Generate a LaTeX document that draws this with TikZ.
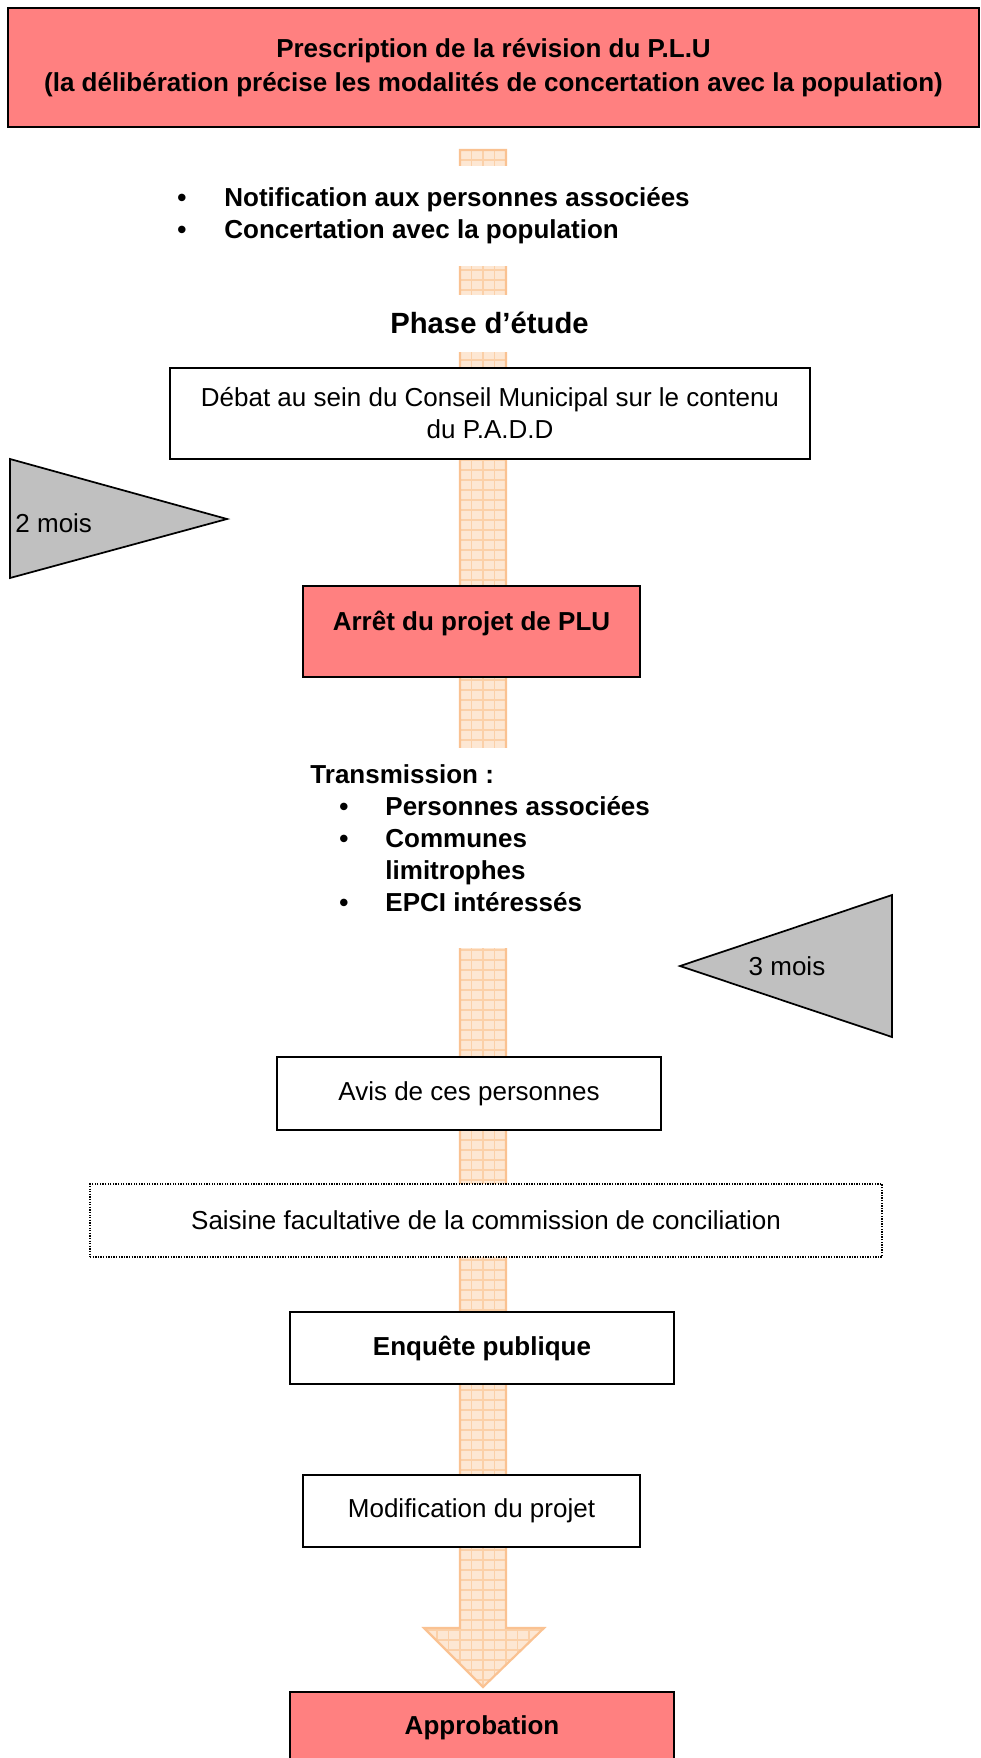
\documentclass[tikz,border=0pt]{standalone}
\usepackage{fontspec}
\setmainfont{Liberation Sans}
\usepackage{tikz}

\newlength\pix
\setlength\pix{0.4615pt}

\definecolor{rose}{RGB}{255,128,128}
\definecolor{gris}{RGB}{192,192,192}
\definecolor{peche}{RGB}{253,231,211}
\definecolor{pechegrille}{RGB}{251,208,168}
\definecolor{pechebord}{RGB}{250,194,146}

\tikzset{
	texte/.style={inner sep=0pt, align=center, font=\fontsize{12}{14.77}\selectfont},
	gras/.style={texte, font=\fontsize{12}{14.77}\selectfont\bfseries},
	boite/.style={draw=black, line width=0.9pt, fill=white},
	triangle/.style={draw=black, line width=0.8pt, fill=gris, line join=miter}
}

\begin{document}
\begin{tikzpicture}[x=\pix, y=-\pix]
	\useasboundingbox (0,0) rectangle (981,1758);

	\draw[pechebord, line width=1pt, fill=peche, path picture={
		\foreach \gx in {0,...,12}
			\draw[pechegrille, line width=0.5pt] ({414+\gx*11.5},140) -- ({414+\gx*11.5},1700);
		\foreach \gy in {0,...,155}
			\draw[pechegrille, line width=0.5pt] (400,{150+\gy*10}) -- (560,{150+\gy*10});
	}] (460,150) -- (506,150) -- (506,1628) -- (544,1628) -- (483,1687) -- (424,1628) -- (460,1628) -- cycle;

	\node[gras, boite, fill=rose, minimum width=971\pix, minimum height=119\pix] (prescription) at (493.5,67.5)
		{Prescription de la révision du P.L.U\\[1pt](la délibération précise les modalités de concertation avec la population)};

	\node[gras, fill=white, anchor=north west] (notif) at (177,166)
		{\parbox[c][100\pix][t]{540\pix}{\raggedright\vspace*{21\pix}%
		\makebox[47\pix][l]{\textbullet}Notification aux personnes associées\\
		\makebox[47\pix][l]{\textbullet}Concertation avec la population}};

	\node[texte, font=\fontsize{13.5}{17}\selectfont\bfseries, fill=white, minimum height=57\pix] (phase) at (489.5,323) {Phase d’étude};

	\node[texte, boite, minimum width=640\pix, minimum height=91\pix] (debat) at (490,413.5)
		{Débat au sein du Conseil Municipal sur le contenu\\du P.A.D.D};

	\draw[triangle] (10,459) -- (227,519) -- (10,578) -- cycle;
	\node[texte, anchor=west] (deuxmois) at (15,523) {2 mois};

	\node[gras, boite, fill=rose, minimum width=337\pix, minimum height=91\pix, text depth=10pt] (arret) at (471.5,631.5) {Arrêt du projet de PLU};

	\node[gras, fill=white, anchor=north west] (transmission) at (310,748)
		{\parbox[c][200\pix][t]{410\pix}{\raggedright\vspace*{16\pix}%
		Transmission :\\
		\hspace*{29\pix}\makebox[46\pix][l]{\textbullet}Personnes associées\\
		\hspace*{29\pix}\makebox[46\pix][l]{\textbullet}Communes\\
		\hspace*{75\pix}limitrophes\\
		\hspace*{29\pix}\makebox[46\pix][l]{\textbullet}EPCI intéressés}};

	\draw[triangle] (892,895) -- (680,966) -- (892,1037) -- cycle;
	\node[texte] (troismois) at (787,966) {3 mois};

	\node[texte, boite, minimum width=384\pix, minimum height=73\pix] (avis) at (469,1093.5) {Avis de ces personnes};

	\node[texte, draw=black, fill=white, line width=0.8pt, dash pattern=on 0.6pt off 0.6pt, minimum width=792\pix, minimum height=73\pix] (saisine) at (486,1220.5)
		{Saisine facultative de la commission de conciliation};

	\node[gras, boite, minimum width=384\pix, minimum height=72\pix] (enquete) at (482,1348) {Enquête publique};

	\node[texte, boite, minimum width=337\pix, minimum height=72\pix] (modification) at (471.5,1511) {Modification du projet};

	\node[gras, boite, fill=rose, minimum width=384\pix, minimum height=72\pix] (approbation) at (482,1728) {Approbation};
\end{tikzpicture}
\end{document}
